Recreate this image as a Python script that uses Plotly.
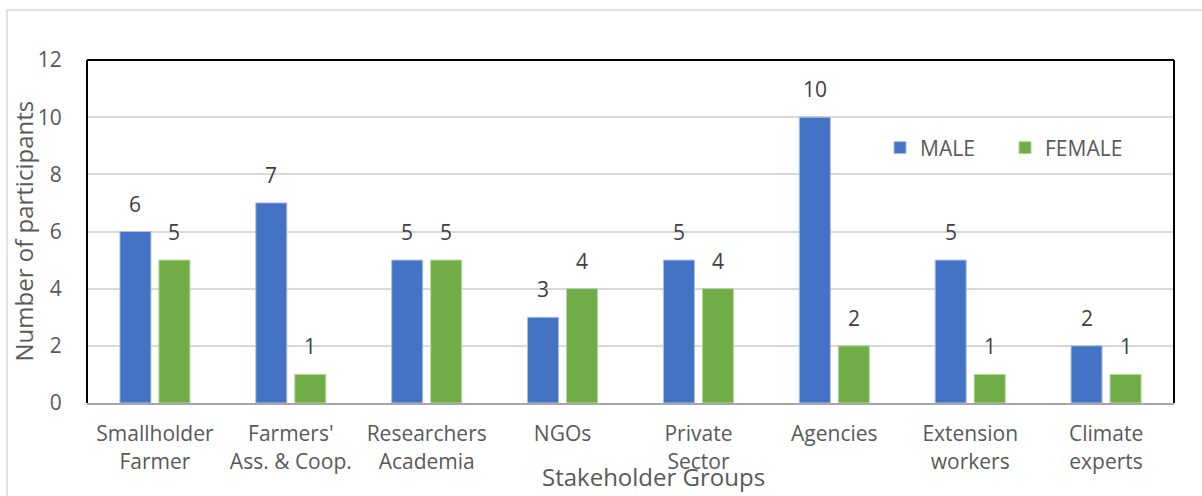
import plotly.graph_objects as go

categories = ["Smallholder<br>Farmer", "Farmers'<br>Ass. & Coop.", "Researchers<br>Academia", "NGOs",
              "Private<br>Sector", "Agencies", "Extension<br>workers", "Climate<br>experts"]
male = [6, 7, 5, 3, 5, 10, 5, 2]
female = [5, 1, 5, 4, 4, 2, 1, 1]
y_ticks = [0, 2, 4, 6, 8, 10, 12]

BLUE = "#4472C4"
GREEN = "#70AD47"
FONT = "Open Sans"
FS = 21

fig = go.Figure()
fig.add_trace(go.Bar(name="MALE", x=categories, y=male, marker=dict(color=BLUE, line=dict(color="#a9bfe6", width=1))))
fig.add_trace(go.Bar(name="FEMALE", x=categories, y=female, marker=dict(color=GREEN, line=dict(color="#b4d69c", width=1))))

W, H = 1202, 496
l, r, t, b = 87, 28, 60, 93
pw, ph = W - l - r, H - t - b

def px(x):
    return (x - l) / pw

def py(y):
    return (H - b - y) / ph

annotations = []
for i, c in enumerate(categories):
    for vals, shift in ((male, -19.5), (female, 19.5)):
        annotations.append(dict(x=c, y=vals[i], xref="x", yref="y", text=str(vals[i]), showarrow=False,
                                xshift=shift, yshift=28, yanchor="middle",
                                font=dict(family=FONT, size=FS, color="#404040")))
annotations.append(dict(x=0.521, y=-0.215, xref="paper", yref="paper", text="Stakeholder Groups",
                        showarrow=False, yanchor="middle", font=dict(family=FONT, size=24, color="#595959")))
annotations.append(dict(x=px(23), y=0.5, xref="paper", yref="paper", text="Number of participants",
                        textangle=-90, showarrow=False, xanchor="center", yanchor="middle",
                        font=dict(family=FONT, size=24, color="#595959")))

shapes = [
    dict(type="rect", xref="paper", yref="paper", x0=px(7), x1=px(1215), y0=py(510), y1=py(10),
         line=dict(color="#d9d9d9", width=1.5), layer="below"),
    dict(type="line", xref="paper", yref="paper", x0=0, x1=0, y0=0, y1=1, line=dict(color="black", width=2)),
    dict(type="line", xref="paper", yref="paper", x0=0, x1=1, y0=1, y1=1, line=dict(color="black", width=2)),
    dict(type="line", xref="paper", yref="paper", x0=1, x1=1, y0=0, y1=1, line=dict(color="black", width=2)),
]

fig.update_layout(
    width=W, height=H,
    margin=dict(l=l, r=r, t=t, b=b, autoexpand=False),
    paper_bgcolor="white", plot_bgcolor="white",
    barmode="group", bargap=0.426, bargroupgap=0.205,
    font=dict(family=FONT, size=FS, color="#595959"),
    legend=dict(orientation="h", x=px(880), y=py(148), xanchor="left", yanchor="middle",
                bgcolor="rgba(0,0,0,0)", font=dict(family=FONT, size=FS, color="#595959"),
                itemwidth=30, traceorder="normal", entrywidth=80, entrywidthmode="pixels"),
    xaxis=dict(showline=True, linecolor="#a6a6a6", linewidth=2, ticks="outside", ticklen=11,
               tickcolor="rgba(0,0,0,0)", tickfont=dict(size=FS), showgrid=False, automargin=False),
    yaxis=dict(range=[0, 12], tickvals=y_ticks, showgrid=True, gridcolor="#d9d9d9", gridwidth=1.5,
               zeroline=False, ticks="outside", ticklen=20, tickcolor="rgba(0,0,0,0)",
               tickfont=dict(size=FS), automargin=False),
    annotations=annotations, shapes=shapes,
)

fig.write_html("out.html")
